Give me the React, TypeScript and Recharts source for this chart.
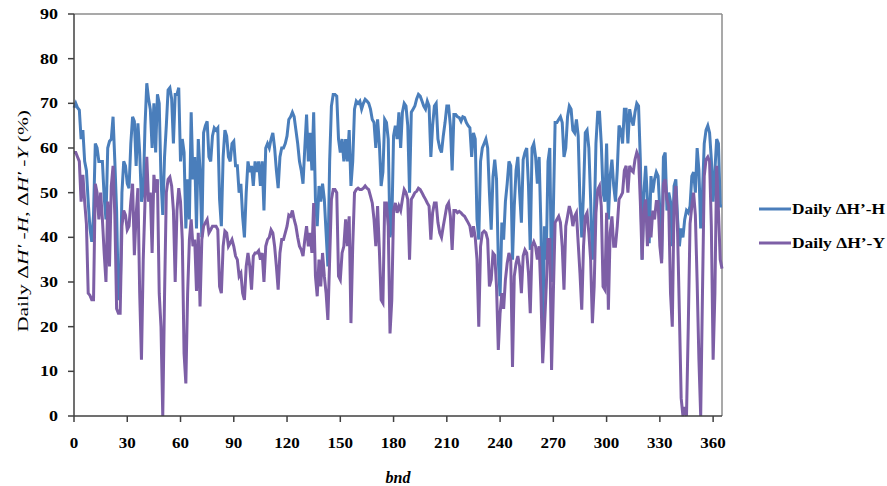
import React from "react";
import { LineChart, Line, XAxis, YAxis, Legend, ReferenceLine } from "recharts";

// Day of year (category axis)
const days: number[] = Array.from({ length: 366 }, (_, i) => i);

const xTicks = [0, 30, 60, 90, 120, 150, 180, 210, 240, 270, 300, 330, 360];
const yTicks = [0, 10, 20, 30, 40, 50, 60, 70, 80, 90];

// Daily ΔH'-H (%)
const dailyH: number[] = [
  69, 70, 69, 68.5, 62, 64, 57, 55, 48, 42,
  39, 45, 61, 60, 57, 57, 57, 49, 44, 60,
  61.5, 62, 67, 57, 46, 26, 27, 50, 57, 56,
  52, 51, 61, 67, 66, 56, 65.5, 59, 48, 50,
  65, 74.5, 71, 68.6, 60, 70, 59, 72, 70, 53,
  45, 58, 65, 73, 73.5, 71, 61, 72, 72, 73.5,
  57, 62, 59, 42, 53, 44, 68, 53, 58, 42,
  62, 55, 40, 63.4, 65, 66, 58, 57, 62.7, 64.5,
  64, 64.5, 48.5, 42.5, 58, 64, 62.7, 58, 57, 61,
  61.5, 56, 56, 50, 52, 44.6, 40, 50, 57, 54.6,
  56, 51.5, 57, 54.6, 57, 51.5, 57, 46, 60, 61,
  60, 62, 63.4, 60, 55, 51, 58, 60, 60, 61,
  62.7, 66.4, 67, 68, 67, 64, 61, 57, 55, 52,
  60, 67.5, 57, 63.4, 55, 68, 48.5, 42.5, 51.5, 48,
  52, 48.5, 41, 33.5, 57, 69.4, 72, 72, 71.6, 62,
  59, 62, 57, 62, 57, 64, 51.5, 57, 68.7, 70.5,
  70, 70.5, 68.7, 70, 70.9, 70.5, 70, 68.7, 66.4, 65.7,
  60, 66.4, 61, 51.5, 54.6, 66.4, 65.7, 62, 40, 42.5,
  62.7, 65, 62, 68, 60, 68, 70, 69.4, 65, 50,
  68, 68.7, 69.4, 71, 72, 71.6, 70.5, 69.4, 68.7, 70.5,
  69.4, 58, 65, 69.4, 70, 62, 60, 59, 62.7, 65.7,
  69.4, 69.4, 65, 55, 67.5, 67.5, 67, 66.8, 66, 67,
  66.8, 65.7, 65, 64.5, 58, 63.4, 62, 44, 39.5, 57,
  60, 61, 62, 60, 50, 41.7, 53.6, 57.4, 53, 35,
  26.8, 43.3, 39.5, 48, 52, 57, 56, 35, 47, 55,
  58, 50, 43.3, 57.4, 59, 60, 51.5, 37.2, 60, 61,
  58, 52, 58, 42.5, 18, 42.5, 35, 57, 60, 30,
  46, 65.7, 65.7, 66.4, 67, 65.7, 58, 60, 67, 69.4,
  68.7, 64, 63.4, 66.4, 62.7, 48, 40, 50, 63.4, 64,
  60, 48.5, 35, 42.5, 61, 68, 68, 61, 50, 48,
  61, 44, 53.7, 57.4, 51.5, 48, 55, 65, 64, 61,
  68.7, 68.7, 61, 68.7, 66.4, 65, 68, 70, 69.4, 57.4,
  35, 50, 56, 48.5, 38.7, 53.7, 50, 53, 54.6, 53.7,
  46, 35, 58, 59, 46, 50, 48, 38, 51.5, 53,
  44, 38, 42, 40, 44, 46, 45.5, 47, 53.7, 54.6,
  50, 60, 55, 42, 50, 61, 64, 65, 63.4, 57.4,
  48, 55, 62, 61, 47, 47,
];

// Daily ΔH'-Y (%)
const dailyY: number[] = [
  59, 59, 58, 57, 48, 54, 48, 43, 27.5, 27,
  26, 26, 52, 50, 44, 50, 44, 36.5, 30, 48,
  33.5, 51.5, 56, 45, 24, 23, 23, 42.5, 46, 45,
  41.7, 42.5, 48, 52, 36, 45, 51, 27.5, 12.6, 35,
  48, 58, 48, 50, 36.5, 54, 50, 53, 27.5, 20,
  0, 27, 50, 53, 53.5, 51.5, 46, 30, 46, 51,
  48, 39.5, 14, 7.3, 27.5, 39.5, 44, 38, 39.5, 28,
  41, 24.5, 39.5, 42.5, 43.3, 44, 41, 41.7, 42.5, 42.5,
  42.5, 41.7, 29, 27.5, 38, 41.4, 41, 38, 38.7, 39.5,
  38, 35.8, 35, 31.3, 32, 27.5, 26, 33.5, 36.5, 33.5,
  28.3, 35.8, 36.5, 36.5, 37, 35, 36.5, 30, 38, 39.5,
  40, 41.7, 41, 38, 33.5, 28.3, 36.5, 39.5, 39.5, 41,
  42.5, 45, 44.7, 46, 44, 42.5, 40, 38, 37.2, 35.8,
  39.5, 42.5, 38, 41, 36.5, 47.7, 31.3, 26.8, 35, 29,
  36.5, 31.3, 27.5, 21.5, 35, 48.5, 50.7, 50.7, 50, 31.3,
  30.5, 36.5, 38, 44, 38, 44.7, 20.8, 38, 50, 50.7,
  51, 50.7, 50.7, 51, 51.5, 51, 50.7, 49.2, 47.7, 44,
  38, 47, 37.2, 26, 25.3, 47.7, 47.7, 42.5, 18.5, 26,
  46, 47.7, 45.5, 47, 46, 48.5, 50.7, 50, 48.5, 35,
  48.5, 49.2, 50, 50.3, 51, 50.7, 50, 49.2, 48.5, 47.7,
  47, 39.5, 45.5, 47.7, 47.7, 43.3, 41, 40, 42.5, 44.7,
  47, 47.7, 44.7, 37.2, 46, 46, 45.5, 45.8, 45.5, 45,
  44.7, 44, 43.3, 42.5, 40, 42.5, 40, 35, 20, 38,
  41, 41.4, 41, 39.5, 29, 30.5, 36.5, 36, 29, 14.8,
  23, 27.5, 24, 30.5, 34.2, 36.5, 35, 11, 31.3, 34.2,
  35.8, 33.5, 27.5, 35.8, 37.2, 36.5, 32, 23, 38, 39,
  38, 35, 38, 27.5, 11.8, 20, 29, 39.5, 39.5, 10.3,
  27.5, 43.3, 44, 44.7, 43.3, 38, 28.3, 42.5, 44.7, 47,
  45.5, 42.5, 44.7, 45.5, 38.7, 32, 23.8, 38, 44.7, 45.5,
  41, 35, 20.8, 29, 45.5, 50.7, 51.5, 47, 29, 28.3,
  45.5, 23.8, 41, 44.7, 38, 38, 42.5, 48.5, 49.2, 50,
  55, 56, 50, 56, 55, 54.6, 57.4, 59, 58, 48,
  35, 46, 48.5, 38, 44.7, 40, 46, 44, 48, 48,
  38, 34.2, 52, 53, 48.5, 47, 27.5, 20, 48, 51.5,
  41, 23, 4, 0, 2, 0, 20, 43, 47, 50,
  45, 30, 12.6, 0, 27.5, 53.7, 57.4, 58, 57, 42.5,
  12.6, 27.5, 56, 46, 35, 33,
];

const seriesNames = ["Daily \u0394H\u2019-H", "Daily \u0394H\u2019-Y"];
const seriesColors = ["#4A7EBB", "#7D5FA6"];

const data = days.map((d, i) => ({ day: d, h: dailyH[i], y: dailyY[i] }));

const SERIF = "'Liberation Serif', 'Times New Roman', serif";
const tickTextStyle = { fontFamily: SERIF, fontWeight: 700, fontSize: 15, fill: "#000" };

const YTick = (props: any) => {
  const { x, y, payload } = props;
  const s = String(payload.value);
  return (
    <text
      x={x}
      y={y}
      textAnchor="end"
      dominantBaseline="central"
      textLength={s.length * 9}
      lengthAdjust="spacingAndGlyphs"
      style={tickTextStyle}
    >
      {s}
    </text>
  );
};

const XTick = (props: any) => {
  const { x, y, payload } = props;
  const s = String(payload.value);
  return (
    <text
      x={x}
      y={y}
      textAnchor="middle"
      dominantBaseline="central"
      textLength={s.length * 8.5}
      lengthAdjust="spacingAndGlyphs"
      style={tickTextStyle}
    >
      {s}
    </text>
  );
};

const renderLegend = (props: any) => {
  const payload = props.payload || [];
  return (
    <div>
      {payload.map((p: any, i: number) => (
        <svg key={i} width={130} height={34} style={{ display: "block" }}>
          <line x1={0} y1={17} x2={32} y2={17} stroke={p.color} strokeWidth={3} />
          <text
            x={33}
            y={17}
            dominantBaseline="central"
            textLength={93}
            lengthAdjust="spacingAndGlyphs"
            style={{ fontFamily: SERIF, fontWeight: 700, fontSize: 15, fill: "#000" }}
          >
            {p.value}
          </text>
        </svg>
      ))}
    </div>
  );
};

const YLabel = (props: any) => {
  const cx = 23;
  const cy = 221;
  return (
    <text
      x={cx}
      y={cy}
      transform={`rotate(-90, ${cx}, ${cy})`}
      textAnchor="middle"
      dominantBaseline="central"
      textLength={222}
      lengthAdjust="spacingAndGlyphs"
      style={{ fontFamily: SERIF, fontSize: 15, fill: "#000" }}
    >
      <tspan>Daily Δ</tspan>
      <tspan fontStyle="italic">H'</tspan>
      <tspan> -</tspan>
      <tspan fontStyle="italic">H</tspan>
      <tspan>, Δ</tspan>
      <tspan fontStyle="italic">H'</tspan>
      <tspan> -</tspan>
      <tspan fontStyle="italic">Y</tspan>
      <tspan> (%)</tspan>
    </text>
  );
};

const XLabel = (props: any) => {
  const vb = props.viewBox || { x: 0, y: 0, width: 0, height: 0 };
  return (
    <text
      x={vb.x + vb.width / 2}
      y={477}
      textAnchor="middle"
      dominantBaseline="central"
      style={{ fontFamily: SERIF, fontSize: 16, fontStyle: "italic", fontWeight: 700, fill: "#000" }}
    >
      bnd
    </text>
  );
};

export default function App() {
  return (
    <div style={{ position: "absolute", left: 0, top: 0, width: 887, height: 486 }}>
      <LineChart
        width={887}
        height={486}
        data={data}
        margin={{ top: 14, right: 165, bottom: 40, left: 14 }}
      >
        <XAxis
          dataKey="day"
          type="number"
          domain={[0, 365]}
          ticks={xTicks}
          interval={0}
          tick={<XTick />}
          tickMargin={21}
          tickSize={6}
          height={30}
          stroke="#404040"
          strokeWidth={1.5}
          label={<XLabel />}
        />
        <YAxis
          type="number"
          domain={[0, 90]}
          ticks={yTicks}
          interval={0}
          tick={<YTick />}
          tickMargin={10}
          tickSize={6}
          width={60}
          stroke="#404040"
          strokeWidth={1.5}
          label={<YLabel />}
        />
        <ReferenceLine y={90} stroke="#8c8c8c" strokeWidth={1.5} />
        <ReferenceLine x={365} stroke="#8c8c8c" strokeWidth={1.5} />
        <Line
          type="linear"
          dataKey="h"
          name={seriesNames[0]}
          stroke={seriesColors[0]}
          strokeWidth={3}
          dot={false}
          isAnimationActive={false}
        />
        <Line
          type="linear"
          dataKey="y"
          name={seriesNames[1]}
          stroke={seriesColors[1]}
          strokeWidth={3}
          dot={false}
          isAnimationActive={false}
        />
        <Legend
          layout="horizontal"
          align="center"
          verticalAlign="middle"
          content={renderLegend}
          wrapperStyle={{ left: 759, top: 192, width: 130 }}
        />
      </LineChart>
    </div>
  );
}
